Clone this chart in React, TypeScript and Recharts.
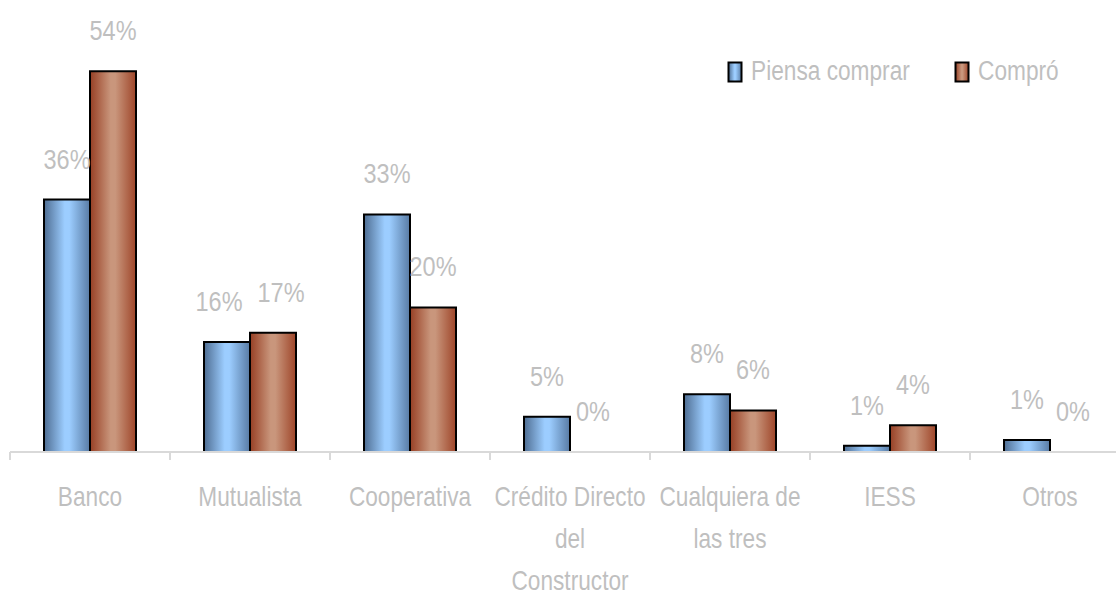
import { BarChart, Bar, XAxis, YAxis, LabelList } from "recharts";

const categories = [
  "Banco",
  "Mutualista",
  "Cooperativa",
  "Crédito Directo\ndel\nConstructor",
  "Cualquiera de\nlas tres",
  "IESS",
  "Otros",
];
// bar heights (percent)
const piensaComprar = [35.8, 15.6, 33.7, 5.0, 8.2, 0.9, 1.7];
const compro = [54.0, 16.9, 20.5, 0, 5.9, 3.8, 0];
// printed labels
const piensaLabels = ["36%", "16%", "33%", "5%", "8%", "1%", "1%"];
const comproLabels = ["54%", "17%", "20%", "0%", "6%", "4%", "0%"];

const seriesNames = ["Piensa comprar", "Compró"];

const data = categories.map((name, i) => ({
  name,
  piensa: piensaComprar[i],
  compro: compro[i],
  piensaLbl: piensaLabels[i],
  comproLbl: comproLabels[i],
  // recharts drops labels of zero-height bars, so those get drawn from the neighbour
  comproZeroLbl: compro[i] === 0 ? comproLabels[i] : "",
  // labels at nearly the same height get pushed apart, like excel does
  crowded: Math.abs(piensaComprar[i] - compro[i]) < 1.5,
}));

const FONT = "'Liberation Sans', Arial, sans-serif";
const GRAY = "#bfbfbf";
const HALF_CAT = 80;
const SQUEEZE = 0.84;

// narrow text: the reference uses a condensed face, so squeeze horizontally
const NarrowText = ({ x, y, children, size = 27 }: any) => (
  <g transform={`translate(${x},${y}) scale(${SQUEEZE},1)`}>
    <text x={0} y={0} textAnchor="middle" fill={GRAY} fontSize={size} fontFamily={FONT}>
      {children}
    </text>
  </g>
);

const CategoryTick = ({ x, y, payload }: any) => {
  const lines = String(payload.value).split("\n");
  return (
    <g>
      <line x1={x - HALF_CAT} y1={y - 8} x2={x - HALF_CAT} y2={y} stroke="#d9d9d9" strokeWidth={2} />
      <line x1={x + HALF_CAT} y1={y - 8} x2={x + HALF_CAT} y2={y} stroke="#d9d9d9" strokeWidth={2} />
      {lines.map((l, i) => (
        <NarrowText key={i} x={x} y={y + 46 + i * 42}>
          {l}
        </NarrowText>
      ))}
    </g>
  );
};

const makeLabel = (dir: number) => (props: any) => {
  const { x, y, width, value } = props;
  if (!value || !value.text) return null;
  return (
    <NarrowText x={x + width / 2 + (value.crowded ? dir * 8 : 0)} y={y - 31} size={28}>
      {value.text}
    </NarrowText>
  );
};

const ZeroLabel = (props: any) => {
  const { x, y, width, height, value } = props;
  if (!value) return null;
  return (
    <NarrowText x={x + width * 1.5} y={y + height - 31} size={28}>
      {value}
    </NarrowText>
  );
};

const LegendBox = () => (
  <div
    style={{
      position: "absolute",
      top: 56,
      left: 727,
      display: "flex",
      alignItems: "center",
      fontFamily: FONT,
      fontSize: 27,
      color: GRAY,
    }}
  >
    {seriesNames.map((n, i) => (
      <div key={n} style={{ display: "flex", alignItems: "center" }}>
        <svg width={16} height={22} style={{ marginRight: 8 }}>
          <rect x={1.5} y={1.5} width={13} height={19} fill={i === 0 ? "url(#gBlue)" : "url(#gRed)"} stroke="#000" strokeWidth={2} />
        </svg>
        <span
          style={{
            display: "inline-block",
            transform: `scaleX(${SQUEEZE})`,
            transformOrigin: "left center",
            width: i === 0 ? 203 : 90,
            whiteSpace: "nowrap",
          }}
        >
          {n}
        </span>
      </div>
    ))}
  </div>
);

export default function App() {
  return (
    <div style={{ position: "relative", width: 1116, height: 595, overflow: "hidden", background: "#fff" }}>
      <style>{`body{margin:0}`}</style>
      <BarChart
        width={1140}
        height={595}
        data={data}
        margin={{ top: 29, right: 10, bottom: 0, left: 10 }}
        barCategoryGap={34}
        barGap={0}
      >
        <defs>
          <linearGradient id="gBlue" x1="0" y1="0" x2="1" y2="0">
            <stop offset="0%" stopColor="#4e6d92" />
            <stop offset="45%" stopColor="#9ccdff" />
            <stop offset="55%" stopColor="#9ccdff" />
            <stop offset="100%" stopColor="#587ba4" />
          </linearGradient>
          <linearGradient id="gRed" x1="0" y1="0" x2="1" y2="0">
            <stop offset="0%" stopColor="#973f24" />
            <stop offset="45%" stopColor="#c9967c" />
            <stop offset="55%" stopColor="#c9967c" />
            <stop offset="100%" stopColor="#9e4529" />
          </linearGradient>
        </defs>
        <XAxis
          dataKey="name"
          axisLine={{ stroke: "#d9d9d9", strokeWidth: 2 }}
          tickLine={false}
          tick={<CategoryTick />}
          interval={0}
          height={143}
        />
        <YAxis hide domain={[0, 60]} />
        <Bar dataKey="piensa" fill="url(#gBlue)" stroke="#000" strokeWidth={2} isAnimationActive={false}>
          <LabelList
            dataKey={(row: any) => ({ text: row.piensaLbl, crowded: row.crowded })}
            content={makeLabel(-1)}
          />
          <LabelList dataKey="comproZeroLbl" content={<ZeroLabel />} />
        </Bar>
        <Bar dataKey="compro" fill="url(#gRed)" stroke="#000" strokeWidth={2} isAnimationActive={false}>
          <LabelList
            dataKey={(row: any) => ({ text: row.comproLbl, crowded: row.crowded })}
            content={makeLabel(1)}
          />
        </Bar>
      </BarChart>
      <LegendBox />
    </div>
  );
}
